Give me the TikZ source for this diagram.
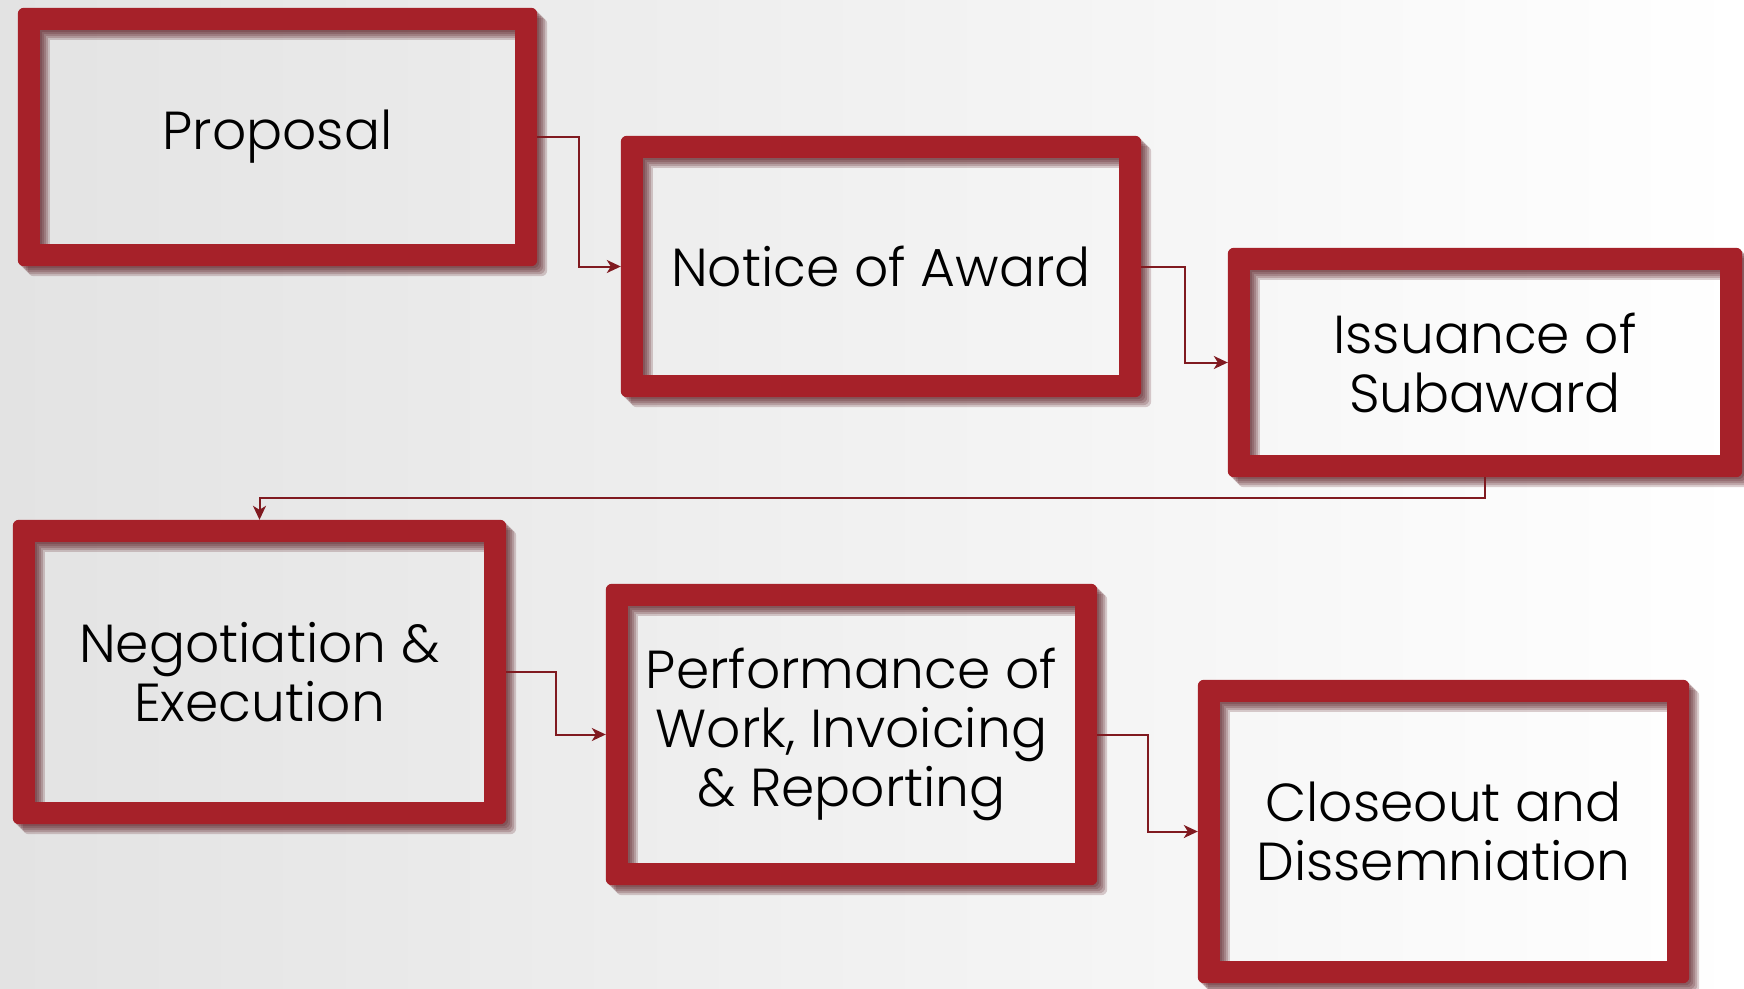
\documentclass[tikz,border=0pt]{standalone}
\usepackage{fontspec}
\setmainfont{Poppins Light}
\usetikzlibrary{arrows.meta,calc}
\definecolor{framered}{RGB}{166,33,41}
\definecolor{shadowred}{RGB}{80,14,20}
\definecolor{linered}{RGB}{128,26,32}
\pgfdeclarelayer{back}\pgfdeclarelayer{frames}
\pgfsetlayers{back,frames,main}
\tikzset{
 stage/.style={inner sep=0pt, align=center, font=\fontsize{53.5}{59}\selectfont, text=black},
 conn/.style={draw=linered, line width=2pt, -{Stealth[length=14pt,width=13pt,inset=4pt]}},
}
\newcommand\stagebox[6]{%
 \node[stage, minimum width=#4pt, minimum height=#5pt] (#1) at (#2,#3) {#6};
 \begin{pgfonlayer}{frames}
  \foreach \d in {2,4,6,8,10}{
   \fill[shadowred, opacity=0.2, even odd rule] [rounded corners=6pt] ([shift={(\d,\d)}]#1.north west) rectangle ([shift={(\d,\d)}]#1.south east) [sharp corners] ([shift={(22+\d,22+\d)}]#1.north west) rectangle ([shift={(\d-22,\d-22)}]#1.south east);
  }
  \fill[framered, even odd rule] [rounded corners=6pt] (#1.north west) rectangle (#1.south east) [sharp corners] ([shift={(22,22)}]#1.north west) rectangle ([shift={(-22,-22)}]#1.south east);
 \end{pgfonlayer}
}
\begin{document}
\begin{tikzpicture}[x=1pt,y=-1pt]
\useasboundingbox (0,0) rectangle (1744,988);
\begin{pgfonlayer}{back}
 \shade[left color=black!11, right color=white] (0,0) rectangle (1744,988);
\end{pgfonlayer}
\stagebox{b1}{277.5}{137}{519}{258}{Proposal}
\stagebox{b2}{881}{266.5}{520}{261}{Notice of Award}
\stagebox{b3}{1485}{362.5}{514}{229}{Issuance of\\Subaward}
\stagebox{b4}{259.5}{672}{493}{304}{Negotiation \&\\Execution}
\stagebox{b5}{851.5}{734.5}{491}{301}{Performance of\\Work, Invoicing\\\& Reporting}
\stagebox{b6}{1443.5}{831.5}{491}{303}{Closeout and\\Dissemniation}
\draw[conn] (b1.east) -| ($(b1.east)!.5!(b2.west)$) |- (b2.west);
\draw[conn] (b2.east) -| ($(b2.east)!.5!(b3.west)$) |- (b3.west);
\draw[conn] (b3.south) -- ++(0,21) -| (b4.north);
\draw[conn] (b4.east) -| ($(b4.east)!.5!(b5.west)$) |- (b5.west);
\draw[conn] (b5.east) -| ($(b5.east)!.5!(b6.west)$) |- (b6.west);
\end{tikzpicture}
\end{document}
